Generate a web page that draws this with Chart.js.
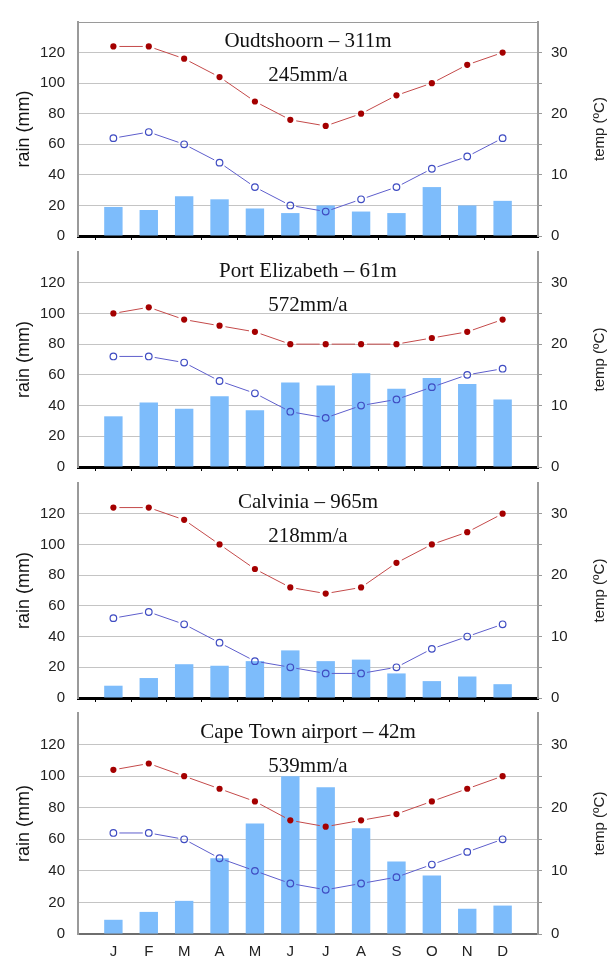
<!DOCTYPE html>
<html>
<head>
<meta charset="utf-8">
<script src="https://cdn.jsdelivr.net/npm/chart.js@4.4.1/dist/chart.umd.min.js"></script>
<style>
    html, body { margin: 0; padding: 0; background: #fff; }
    #page { position: relative; width: 612px; height: 958px; overflow: hidden; }
    #page canvas { position: absolute; left: 0; }
</style>
</head>
<body>
<div id="page"></div>
<script>
// Month labels, with an empty slot at each end so J..D sit one step in from the axes
const months = ['', 'J', 'F', 'M', 'A', 'M', 'J', 'J', 'A', 'S', 'O', 'N', 'D', ''];

const stationNames = ['Oudtshoorn \u2013 311m', 'Port Elizabeth \u2013 61m', 'Calvinia \u2013 965m', 'Cape Town airport \u2013 42m'];
const annualRain = ['245mm/a', '572mm/a', '218mm/a', '539mm/a'];

// rain (mm), max temp and min temp (°C) per month
const rainOudtshoorn = [19, 17, 26, 24, 18, 15, 20, 16, 15, 32, 20, 23];
const maxOudtshoorn = [31, 31, 29, 26, 22, 19, 18, 20, 23, 25, 28, 30];
const minOudtshoorn = [16, 17, 15, 12, 8, 5, 4, 6, 8, 11, 13, 16];

const rainPortElizabeth = [33, 42, 38, 46, 37, 55, 53, 61, 51, 58, 54, 44];
const maxPortElizabeth = [25, 26, 24, 23, 22, 20, 20, 20, 20, 21, 22, 24];
const minPortElizabeth = [18, 18, 17, 14, 12, 9, 8, 10, 11, 13, 15, 16];

const rainCalvinia = [8, 13, 22, 21, 24, 31, 24, 25, 16, 11, 14, 9];
const maxCalvinia = [31, 31, 29, 25, 21, 18, 17, 18, 22, 25, 27, 30];
const minCalvinia = [13, 14, 12, 9, 6, 5, 4, 4, 5, 8, 10, 12];

const rainCapeTown = [9, 14, 21, 48, 70, 100, 93, 67, 46, 37, 16, 18];
const maxCapeTown = [26, 27, 25, 23, 21, 18, 17, 18, 19, 21, 23, 25];
const minCapeTown = [16, 16, 15, 12, 10, 8, 7, 8, 9, 11, 13, 15];

const rainTicks = [0, 20, 40, 60, 80, 100, 120];
const tempTicks = [0, 10, 20, 30];

const GRID = '#c4c4c4';
const AXIS = '#9a9a9a';
const TEXT = '#222';
const LINE_GAP = 6;

const pad = arr => [null, ...arr, null];

// joins the points of a line dataset, stopping a few px short of each marker
const gappedLines = {
    id: 'gappedLines',
    afterDatasetDraw(chart, args) {
        const ds = chart.data.datasets[args.index];
        if (!ds.gapColor) return;
        const pts = args.meta.data.filter((p, k) => ds.data[k] !== null);
        const ctx = chart.ctx;
        ctx.save();
        ctx.strokeStyle = ds.gapColor;
        ctx.lineWidth = 1;
        ctx.beginPath();
        for (let k = 1; k < pts.length; k++) {
            const a = pts[k - 1], b = pts[k];
            const dx = b.x - a.x, dy = b.y - a.y;
            const len = Math.hypot(dx, dy);
            if (len <= LINE_GAP * 2) continue;
            const ux = dx / len, uy = dy / len;
            ctx.moveTo(a.x + ux * LINE_GAP, a.y + uy * LINE_GAP);
            ctx.lineTo(b.x - ux * LINE_GAP, b.y - uy * LINE_GAP);
        }
        ctx.stroke();
        ctx.restore();
    }
};

const panelText = {
    id: 'panelText',
    afterDraw(chart, args, opts) {
        const { ctx, chartArea } = chart;
        const cx = (chartArea.left + chartArea.right) / 2;
        ctx.save();
        ctx.fillStyle = '#111';
        ctx.textAlign = 'center';
        ctx.textBaseline = 'alphabetic';
        ctx.font = '21px "Liberation Serif", "Times New Roman", serif';
        ctx.fillText(opts.name, cx, chartArea.top + 25);
        ctx.fillText(opts.total, cx, chartArea.top + 59);

        // right axis title, reading bottom to top
        ctx.translate(600, (chartArea.top + chartArea.bottom) / 2);
        ctx.rotate(-Math.PI / 2);
        ctx.textBaseline = 'middle';
        ctx.fillStyle = TEXT;
        ctx.font = '15px "Liberation Sans", Arial, sans-serif';
        ctx.fillText('temp (\u00baC)', 0, 0);
        ctx.restore();
    }
};

const panels = [
    { name: stationNames[0], total: annualRain[0], rain: rainOudtshoorn, tmax: maxOudtshoorn, tmin: minOudtshoorn },
    { name: stationNames[1], total: annualRain[1], rain: rainPortElizabeth, tmax: maxPortElizabeth, tmin: minPortElizabeth },
    { name: stationNames[2], total: annualRain[2], rain: rainCalvinia, tmax: maxCalvinia, tmin: minCalvinia },
    { name: stationNames[3], total: annualRain[3], rain: rainCapeTown, tmax: maxCapeTown, tmin: minCapeTown }
];

// chart-area top/bottom of each panel on the page
const areaTops = [13, 243, 474, 704];
const areaBottoms = [242, 473, 704, 934];
const TOP_PAD = 13;

const page = document.getElementById('page');

panels.forEach((p, i) => {
    const last = i === panels.length - 1;
    const xh = last ? 24 : 16;
    const h = TOP_PAD + (areaBottoms[i] - areaTops[i]) + xh;

    const canvas = document.createElement('canvas');
    canvas.width = 612;
    canvas.height = h;
    canvas.style.top = (areaTops[i] - TOP_PAD) + 'px';
    canvas.style.zIndex = 10 - i;
    page.appendChild(canvas);

    new Chart(canvas, {
        data: {
            labels: months,
            datasets: [
                {
                    type: 'line',
                    data: pad(p.tmax),
                    yAxisID: 'yT',
                    showLine: false,
                    gapColor: '#c44a4a',
                    pointStyle: 'circle',
                    pointRadius: 3.1,
                    pointBackgroundColor: '#a40000',
                    pointBorderWidth: 0,
                    order: 1
                },
                {
                    type: 'line',
                    data: pad(p.tmin),
                    yAxisID: 'yT',
                    showLine: false,
                    gapColor: '#5e5ecc',
                    pointStyle: 'circle',
                    pointRadius: 3.3,
                    pointBackgroundColor: 'transparent',
                    pointBorderColor: '#3f4cc2',
                    pointBorderWidth: 1.2,
                    order: 2
                },
                {
                    type: 'bar',
                    data: pad(p.rain),
                    yAxisID: 'y',
                    backgroundColor: '#7dbcfb',
                    barPercentage: 0.52,
                    categoryPercentage: 1,
                    order: 3
                }
            ]
        },
        options: {
            responsive: false,
            animation: false,
            devicePixelRatio: 1,
            layout: { padding: { top: TOP_PAD, left: 0, right: 0, bottom: 0 } },
            plugins: {
                legend: { display: false },
                tooltip: { enabled: false },
                panelText: { name: p.name, total: p.total }
            },
            scales: {
                x: {
                    type: 'category',
                    offset: false,
                    z: 1,
                    grid: {
                        drawOnChartArea: false,
                        drawTicks: !last,
                        tickLength: 4,
                        tickColor: ctx => (ctx.index === 0 || ctx.index === months.length - 1) ? 'transparent' : '#000'
                    },
                    border: { display: true, color: last ? '#6e6e6e' : '#000', width: last ? 2 : 3 },
                    ticks: {
                        display: last,
                        autoSkip: false,
                        maxRotation: 0,
                        padding: 9,
                        color: TEXT,
                        font: { family: '"Liberation Sans", Arial, sans-serif', size: 15 }
                    },
                    afterFit: s => { s.height = xh; }
                },
                y: {
                    position: 'left',
                    min: 0,
                    max: 140,
                    afterBuildTicks: s => { s.ticks = [...rainTicks, 140].map(v => ({ value: v })); },
                    grid: {
                        drawTicks: false,
                        lineWidth: 1,
                        color: ctx => {
                            if (ctx.tick && ctx.tick.value === 140) return i === 0 ? AXIS : 'transparent';
                            return GRID;
                        }
                    },
                    border: { display: true, color: AXIS, width: 2 },
                    ticks: {
                        padding: 13,
                        color: TEXT,
                        font: { family: '"Liberation Sans", Arial, sans-serif', size: 15 },
                        callback: v => rainTicks.includes(v) ? v : ''
                    },
                    title: {
                        display: true,
                        text: 'rain (mm)',
                        color: '#111',
                        padding: { top: 13, bottom: 0 },
                        font: { family: '"Liberation Sans", Arial, sans-serif', size: 18 }
                    },
                    afterFit: s => { s.width = 78; }
                },
                yT: {
                    position: 'right',
                    min: 0,
                    max: 35,
                    ticks: {
                        stepSize: 5,
                        padding: 9,
                        color: TEXT,
                        font: { family: '"Liberation Sans", Arial, sans-serif', size: 15 },
                        callback: v => tempTicks.includes(v) ? v : ''
                    },
                    grid: {
                        drawOnChartArea: false,
                        drawTicks: true,
                        tickLength: 4,
                        tickColor: ctx => (ctx.tick && ctx.tick.value === 35) ? 'transparent' : AXIS
                    },
                    border: { display: true, color: AXIS, width: 2 },
                    afterFit: s => { s.width = 74; }
                }
            }
        },
        plugins: [gappedLines, panelText]
    });
});
</script>
</body>
</html>
